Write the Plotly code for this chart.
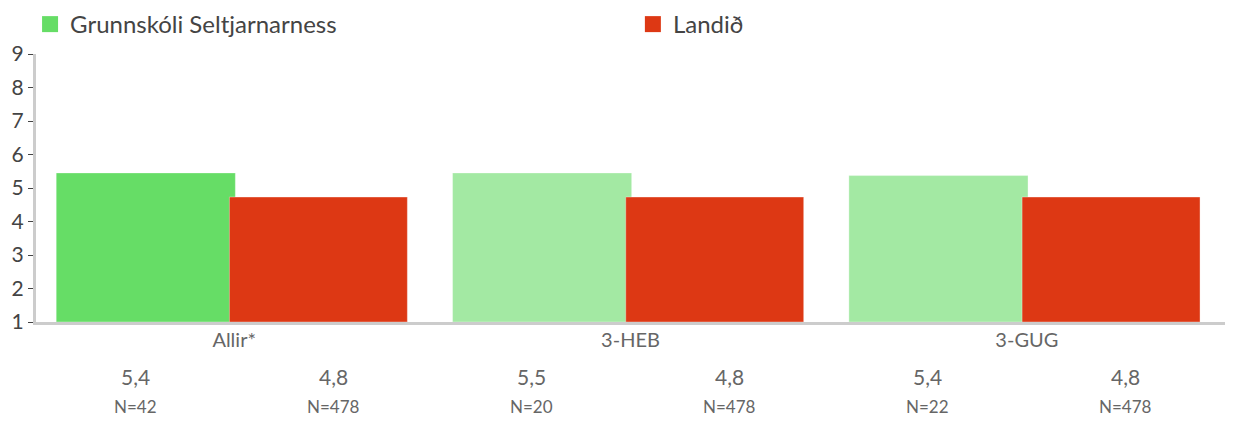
import plotly.graph_objects as go

categories = ["Allir*", "3-HEB", "3-GUG"]
school_values = [5.45, 5.45, 5.37]
country_values = [4.73, 4.73, 4.73]
school_labels = ["5,4", "5,5", "5,4"]
country_labels = ["4,8", "4,8", "4,8"]
school_n = ["N=42", "N=20", "N=22"]
country_n = ["N=478", "N=478", "N=478"]
school_name = "Grunnskóli Seltjarnarness"
country_name = "Landið"

green = "#66dd66"
green_light = "#a3e9a3"
red = "#dd3814"
font = "Lato, 'Noto Sans', sans-serif"

fig = go.Figure()
fig.add_trace(go.Bar(
    x=categories, y=[v - 1 for v in school_values], base=1,
    width=0.452, offset=-0.449,
    marker=dict(color=[green, green_light, green_light],
                line=dict(color="rgba(255,255,255,0.35)", width=1)),
    showlegend=False, hoverinfo="skip",
))
fig.add_trace(go.Bar(
    x=categories, y=[v - 1 for v in country_values], base=1,
    width=0.449, offset=-0.012,
    marker=dict(color=red, line=dict(color="rgba(255,255,255,0.35)", width=1)),
    showlegend=False, hoverinfo="skip",
))
# legend entries with bigger squares, one legend box each
for name, col, lg in [(school_name, green, "legend"), (country_name, red, "legend2")]:
    fig.add_trace(go.Scatter(
        x=[None], y=[None], mode="markers", name=name, legend=lg,
        marker=dict(symbol="square", size=18, color=col),
    ))

annotations = []
for i, cat in enumerate(categories):
    for dx, val, n in [(-0.25, school_labels[i], school_n[i]),
                       (0.25, country_labels[i], country_n[i])]:
        annotations.append(dict(
            x=i + dx, y=-0.205, xref="x", yref="paper", text=val, yanchor="middle",
            showarrow=False, font=dict(size=21, color="#666666", family=font),
        ))
        annotations.append(dict(
            x=i + dx, y=-0.317, xref="x", yref="paper", text=n, yanchor="middle",
            showarrow=False, font=dict(size=17, color="#666666", family=font),
        ))

legend_style = dict(
    orientation="h", xanchor="left", y=1.11, yanchor="middle",
    font=dict(size=24, color="#444444", family=font),
    itemsizing="trace",
)

fig.update_layout(
    width=1226, height=415,
    margin=dict(l=28, r=9, t=46, b=101, autoexpand=False),
    paper_bgcolor="white", plot_bgcolor="white",
    font=dict(family=font, color="#444444"),
    barmode="overlay",
    annotations=annotations,
    legend=dict(x=-0.005, **legend_style),
    legend2=dict(x=0.502, **legend_style),
)
fig.update_xaxes(
    range=[-0.5, 2.5], showline=True, linecolor="#cccccc", linewidth=3,
    ticks="", tickfont=dict(size=20, color="#666666", family=font),
    ticklabelstandoff=-2,
    showgrid=False, zeroline=False,
)
fig.update_yaxes(
    range=[1, 9], dtick=1, showline=True, linecolor="#cccccc", linewidth=3,
    ticks="outside", ticklen=5, tickcolor="#444444", tickwidth=1,
    tickfont=dict(size=21, color="#444444", family=font),
    showgrid=False, zeroline=False,
)

fig.write_html("out.html")
